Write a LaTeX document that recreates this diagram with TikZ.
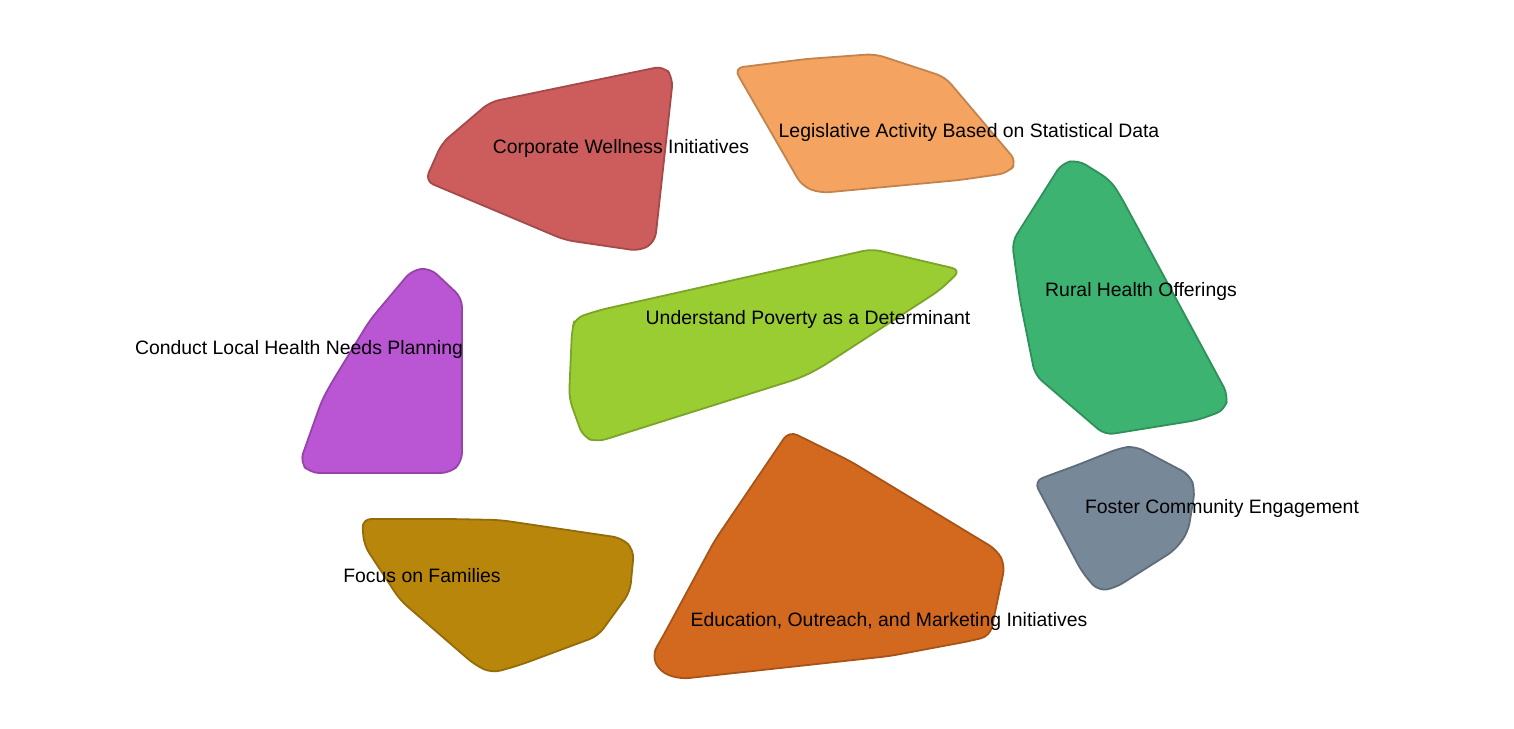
\documentclass[tikz,border=0pt]{standalone}
\usepackage{fontspec}
\setmainfont{Liberation Sans}
\definecolor{cwF}{HTML}{CD5C5C}\definecolor{cwD}{HTML}{A34A4A}
\definecolor{laF}{HTML}{F4A460}\definecolor{laD}{HTML}{C3834D}
\definecolor{rhF}{HTML}{3CB371}\definecolor{rhD}{HTML}{30905A}
\definecolor{upF}{HTML}{9ACD32}\definecolor{upD}{HTML}{7BA428}
\definecolor{clF}{HTML}{BA55D3}\definecolor{clD}{HTML}{9544A9}
\definecolor{fcF}{HTML}{778899}\definecolor{fcD}{HTML}{5F6D7A}
\definecolor{edF}{HTML}{D2691E}\definecolor{edD}{HTML}{A85418}
\definecolor{ffF}{HTML}{B8860B}\definecolor{ffD}{HTML}{936B09}
\tikzset{
  hull/.style={line width=1.8pt, rounded corners=9pt, line join=round},
  lbl/.style={font=\fontsize{19.4}{22}\selectfont, text=black, inner sep=0pt}
}
\begin{document}
\begin{tikzpicture}[x=1pt,y=-1pt]
\useasboundingbox (0,0) rectangle (1514,728);
% Corporate Wellness
\draw[hull, fill=cwF, draw=cwD] (577,84) -- (664,66) -- (673,78) -- (655,242) -- (640,251) -- (565,240) -- (425,181) -- (442,143) -- (490,102) -- cycle;
% Legislative
\draw[hull, fill=laF, draw=laD] (806,59) -- (875,54) -- (945,77) -- (1017,162) -- (1008,173) -- (960,180) -- (820,193) -- (802,186) -- (734,68) -- cycle;
% Rural Health
\draw[hull, fill=rhF, draw=rhD] (1174,295) -- (1228,395) -- (1225,410) -- (1198,420) -- (1105,435) -- (1035,375) -- (1020,300) -- (1012,242) -- (1062,163) -- (1078,160) -- (1110,180) -- (1120,195) -- cycle;
% Understand Poverty
\draw[hull, fill=upF, draw=upD] (736,279.5) -- (872,249) -- (961,270) -- (940,290) -- (820,368) -- (800,378) -- (597,442) -- (583,437) -- (569,398) -- (572,330) -- (575,318) -- (600,310) -- cycle;
% Conduct Local
\draw[hull, fill=clF, draw=clD] (462,380) -- (462,462) -- (450,473) -- (310,473) -- (300,462) -- (322,400) -- (332,382) -- (370,320) -- (412,270) -- (430,268) -- (462,298) -- cycle;
% Foster Community
\draw[hull, fill=fcF, draw=fcD] (1080,464) -- (1120,448) -- (1135,446) -- (1190,475) -- (1195,490) -- (1188,532) -- (1175,550) -- (1115,588) -- (1098,591) -- (1082,572) -- (1034,481) -- cycle;
% Education
\draw[hull, fill=edF, draw=edD] (923.5,505.5) -- (997,550) -- (1005,565) -- (990,636) -- (970,641) -- (890,656) -- (680,679) -- (660,672) -- (652,655) -- (662,638) -- (715,540) -- (789,431) -- (850,461) -- cycle;
% Focus on Families
\draw[hull, fill=ffF, draw=ffD] (450,519) -- (500,520) -- (622,538) -- (634,550) -- (630,592) -- (598,636) -- (520,665) -- (492,673) -- (475,665) -- (400,600) -- (364,545) -- (362,519) -- cycle;
% labels
\node[lbl] (tcw) at (621,148.5) {Corporate Wellness Initiatives};
\node[lbl] (tla) at (969,132.5) {Legislative Activity Based on Statistical Data};
\node[lbl] (trh) at (1141,291.5) {Rural Health Offerings};
\node[lbl] (tup) at (808,319.5) {Understand Poverty as a Determinant};
\node[lbl] (tcl) at (299,349.5) {Conduct Local Health Needs Planning};
\node[lbl] (tfc) at (1222,508.5) {Foster Community Engagement};
\node[lbl] (ted) at (889,621.5) {Education, Outreach, and Marketing Initiatives};
\node[lbl] (tff) at (422,575.5) {Focus on Families};
\end{tikzpicture}
\end{document}
